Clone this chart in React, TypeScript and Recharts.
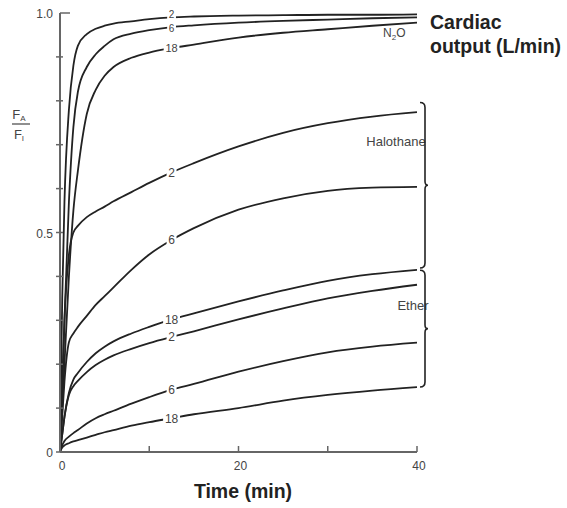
import { LineChart, Line, XAxis, YAxis, ReferenceLine, LabelList } from 'recharts'

// time in minutes, FA/FI values
const time = [0, 0.25, 0.5, 1, 1.5, 2, 3, 4, 5, 6, 8, 10, 12.5, 15, 20, 25, 30, 35, 40]
const n2o2 = [0, 0.35, 0.57, 0.78, 0.88, 0.925, 0.952, 0.964, 0.971, 0.976, 0.981, 0.986, 0.99, 0.992, 0.994, 0.995, 0.996, 0.996, 0.997]
const n2o6 = [0, 0.14, 0.3, 0.57, 0.74, 0.82, 0.877, 0.906, 0.925, 0.94, 0.953, 0.961, 0.968, 0.972, 0.978, 0.982, 0.985, 0.988, 0.99]
const n2o18 = [0, 0.1, 0.2, 0.4, 0.55, 0.64, 0.77, 0.825, 0.857, 0.877, 0.898, 0.91, 0.92, 0.928, 0.944, 0.955, 0.963, 0.971, 0.978]
const hal2 = [0, 0.15, 0.3, 0.45, 0.5, 0.515, 0.535, 0.548, 0.559, 0.571, 0.592, 0.613, 0.637, 0.658, 0.696, 0.727, 0.749, 0.764, 0.774]
const hal6 = [0, 0.08, 0.16, 0.25, 0.27, 0.285, 0.31, 0.335, 0.355, 0.375, 0.415, 0.45, 0.483, 0.51, 0.552, 0.578, 0.595, 0.602, 0.604]
const hal18 = [0, 0.04, 0.08, 0.135, 0.165, 0.18, 0.205, 0.225, 0.24, 0.252, 0.27, 0.285, 0.302, 0.316, 0.343, 0.368, 0.39, 0.405, 0.415]
const eth2 = [0, 0.04, 0.08, 0.13, 0.15, 0.162, 0.182, 0.198, 0.21, 0.22, 0.235, 0.248, 0.262, 0.275, 0.302, 0.327, 0.35, 0.367, 0.381]
const eth6 = [0, 0.015, 0.025, 0.035, 0.043, 0.05, 0.065, 0.077, 0.086, 0.094, 0.11, 0.125, 0.142, 0.155, 0.183, 0.207, 0.227, 0.24, 0.249]
const eth18 = [0, 0.01, 0.015, 0.02, 0.024, 0.027, 0.033, 0.039, 0.045, 0.05, 0.06, 0.068, 0.077, 0.086, 0.1, 0.117, 0.13, 0.14, 0.148]

const xTicks = [0, 10, 20, 30, 40]
const xLabels: Record<number, string> = { 0: '0', 20: '20', 40: '40' }
const yTicks = [0, 0.1, 0.2, 0.3, 0.4, 0.5, 0.6, 0.7, 0.8, 0.9, 1]
const yLabels: Record<number, string> = { 0: '0', 0.5: '0.5', 1: '1.0' }

// dy nudges only for the crowded N2O labels
const series = [
  { key: 'n2o2', values: n2o2, label: '2', size: 10, dy: -3 },
  { key: 'n2o6', values: n2o6, label: '6', size: 10, dy: 1 },
  { key: 'n2o18', values: n2o18, label: '18', size: 11, dy: 0 },
  { key: 'hal2', values: hal2, label: '2', size: 12, dy: 0 },
  { key: 'hal6', values: hal6, label: '6', size: 12, dy: 0 },
  { key: 'hal18', values: hal18, label: '18', size: 12, dy: 0 },
  { key: 'eth2', values: eth2, label: '2', size: 12, dy: 0 },
  { key: 'eth6', values: eth6, label: '6', size: 12, dy: 0 },
  { key: 'eth18', values: eth18, label: '18', size: 12, dy: 0 },
]

const rows = time.map((t, i) => {
  const row: Record<string, number> = { t }
  series.forEach((s) => { row[s.key] = s.values[i] })
  return row
})

const labelAt = time.indexOf(12.5)
const last = time.length - 1

const FONT = 'Liberation Sans, Arial, Helvetica, sans-serif'
const INK = '#222'
const AXIS = '#666'
const TEXT = '#444'

const curveLabel = (text: string, size: number, dy: number) => (props: any) => {
  const { x, y, index } = props
  if (index !== labelAt) return null
  const w = text.length * size * 0.58 + 3
  const h = size * 0.8
  return (
    <g>
      <rect x={x - w / 2} y={y - h / 2} width={w} height={h} fill="#fff" />
      <text x={x} y={y + size * 0.36 + dy} textAnchor="middle" fontSize={size} fontFamily={FONT} fill={TEXT}>
        {text}
      </text>
    </g>
  )
}

const XTick = (props: any) => {
  const { x, y, payload } = props
  const lab = xLabels[payload.value]
  return (
    <g>
      <line x1={x} y1={y} x2={x} y2={y - 6} stroke={AXIS} strokeWidth={1.5} />
      {lab && (
        <text x={x + 2} y={y + 18} textAnchor="middle" fontSize={12} fontFamily={FONT} fill={TEXT}>
          {lab}
        </text>
      )}
    </g>
  )
}

const YTick = (props: any) => {
  const { x, y, payload } = props
  const lab = yLabels[payload.value]
  const top = payload.value === 1
  return (
    <g>
      <line x1={top ? x : x - 4} y1={y} x2={top ? x + 10 : x + 3} y2={y} stroke={AXIS} strokeWidth={1.5} />
      {lab && (
        <text x={x - 7} y={y + 5} textAnchor="end" fontSize={12} fontFamily={FONT} fill={TEXT}>
          {lab}
        </text>
      )}
    </g>
  )
}

const Brace = (props: any) => {
  const { x1, y1, y2 } = props
  const X = x1 + 8
  const yT = Math.min(y1, y2)
  const yB = Math.max(y1, y2)
  const yM = (yT + yB) / 2
  const d = `M ${X - 5} ${yT} Q ${X} ${yT} ${X} ${yT + 5} L ${X} ${yM - 4} Q ${X} ${yM} ${X + 3} ${yM} Q ${X} ${yM} ${X} ${yM + 4} L ${X} ${yB - 5} Q ${X} ${yB} ${X - 5} ${yB}`
  return <path d={d} fill="none" stroke={INK} strokeWidth={1.6} />
}

export default function App() {
  return (
    <div style={{ position: 'absolute', left: 0, top: 0, background: '#fff' }}>
      <LineChart
        width={567}
        height={508}
        data={rows}
        margin={{ top: 13, right: 150, bottom: 26, left: 30 }}
      >
        <XAxis
          dataKey="t"
          type="number"
          domain={[0, 40]}
          ticks={xTicks}
          height={30}
          tickSize={0}
          tickMargin={0}
          tickLine={false}
          tick={<XTick />}
          axisLine={{ stroke: AXIS, strokeWidth: 2 }}
        />
        <YAxis
          type="number"
          domain={[0, 1]}
          ticks={yTicks}
          width={30}
          tickSize={0}
          tickMargin={0}
          tickLine={false}
          tick={<YTick />}
          axisLine={{ stroke: AXIS, strokeWidth: 2 }}
        />
        <ReferenceLine
          segment={[{ x: 40, y: hal2[last] + 0.022 }, { x: 40, y: hal18[last] + 0.004 }]}
          shape={<Brace />}
          ifOverflow="visible"
        />
        <ReferenceLine
          segment={[{ x: 40, y: eth2[last] + 0.033 }, { x: 40, y: eth18[last] }]}
          shape={<Brace />}
          ifOverflow="visible"
        />
        {series.map((s) => (
          <Line
            key={s.key}
            dataKey={s.key}
            type="monotone"
            stroke={INK}
            strokeWidth={1.8}
            dot={false}
            activeDot={false}
            isAnimationActive={false}
          >
            <LabelList dataKey={s.key} content={curveLabel(s.label, s.size, s.dy)} />
          </Line>
        ))}
        <g fontFamily={FONT}>
          <text x={383} y={37} fontSize={12} fill={TEXT}>
            N<tspan fontSize={8} dy={3}>2</tspan><tspan dy={-3}>O</tspan>
          </text>
          <text x={396} y={146} fontSize={13} fill={TEXT} textAnchor="middle">Halothane</text>
          <text x={413} y={310} fontSize={13} fill={TEXT} textAnchor="middle">Ether</text>
          <text x={430} y={29} fontSize={19.5} fontWeight="bold" fill={INK}>Cardiac</text>
          <text x={430} y={53} fontSize={19.5} fontWeight="bold" fill={INK}>output (L/min)</text>
          <text x={243} y={498} fontSize={19.5} fontWeight="bold" fill={INK} textAnchor="middle">Time (min)</text>
          <text x={19} y={119} fontSize={13} fill={TEXT} textAnchor="middle">
            F<tspan fontSize={8} dy={2}>A</tspan>
          </text>
          <line x1={12} y1={124} x2={30} y2={124} stroke={TEXT} strokeWidth={1.2} />
          <text x={19} y={139} fontSize={13} fill={TEXT} textAnchor="middle">
            F<tspan fontSize={8} dy={2}>I</tspan>
          </text>
        </g>
      </LineChart>
    </div>
  )
}
